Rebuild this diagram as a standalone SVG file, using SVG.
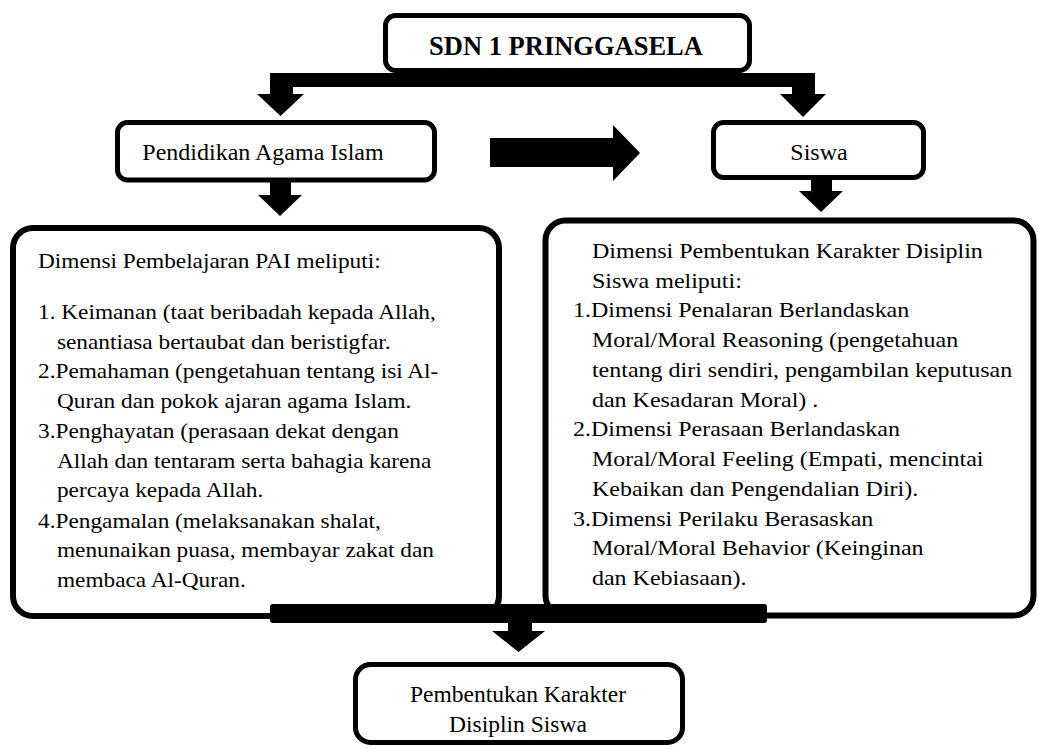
<svg xmlns="http://www.w3.org/2000/svg" width="1038" height="749" viewBox="0 0 1038 749">
<style>
.box{fill:#fff;stroke:#000;stroke-width:5}
.big{fill:#fff;stroke:#000;stroke-width:6}
.t{font-family:'Liberation Serif','Times New Roman',Times,serif;fill:#000}
.s{font-size:24px}
.b{font-size:21.5px}
.title{font-size:26.5px;font-weight:bold}
.arr{fill:#000;stroke:none}
</style>
<rect width="1038" height="749" fill="#fff"/>
<g id="node-sdn">
<rect class="box" x="385.5" y="15.5" width="364" height="55" rx="10"/>
<text class="t title" font-family="Liberation Serif, serif" x="566" y="55" text-anchor="middle">SDN 1 PRINGGASELA</text>
</g>
<g id="node-pai">
<rect class="box" x="117.5" y="122.5" width="317" height="57.5" rx="10"/>
<text class="t s" font-family="Liberation Serif, serif" x="263" y="160" text-anchor="middle">Pendidikan Agama Islam</text>
</g>
<g id="node-siswa">
<rect class="box" x="713.5" y="122.5" width="210" height="55" rx="10"/>
<text class="t s" font-family="Liberation Serif, serif" x="819" y="160" text-anchor="middle">Siswa</text>
</g>
<g id="node-dimensi-pai">
<rect class="big" x="13" y="228" width="486" height="388" rx="20"/>
<g class="t b" font-family="Liberation Serif, serif" transform="translate(38 0) scale(1.084 1)">
<text x="0" y="268">Dimensi Pembelajaran PAI meliputi:</text>
<text x="0" y="319">1. Keimanan (taat beribadah kepada Allah,</text>
<text x="17.5" y="349">senantiasa bertaubat dan beristigfar.</text>
<text x="0" y="378">2.Pemahaman (pengetahuan tentang isi Al-</text>
<text x="17.5" y="408">Quran dan pokok ajaran agama Islam.</text>
<text x="0" y="438">3.Penghayatan (perasaan dekat dengan</text>
<text x="17.5" y="468">Allah dan tentaram serta bahagia karena</text>
<text x="17.5" y="497">percaya kepada Allah.</text>
<text x="0" y="528">4.Pengamalan (melaksanakan shalat,</text>
<text x="17.5" y="557">menunaikan puasa, membayar zakat dan</text>
<text x="17.5" y="587">membaca Al-Quran.</text>
</g>
</g>
<g id="node-dimensi-karakter">
<rect class="big" x="545.5" y="220.5" width="488" height="395" rx="20"/>
<g class="t b" font-family="Liberation Serif, serif" transform="translate(573 0) scale(1.116 1)">
<text x="17" y="258">Dimensi Pembentukan Karakter Disiplin</text>
<text x="17" y="288">Siswa meliputi:</text>
<text x="0" y="317.5">1.Dimensi Penalaran Berlandaskan</text>
<text x="17" y="347">Moral/Moral Reasoning (pengetahuan</text>
<text x="17" y="377">tentang diri sendiri, pengambilan keputusan</text>
<text x="17" y="407">dan Kesadaran Moral) .</text>
<text x="0" y="436.5">2.Dimensi Perasaan Berlandaskan</text>
<text x="17" y="466">Moral/Moral Feeling (Empati, mencintai</text>
<text x="17" y="496">Kebaikan dan Pengendalian Diri).</text>
<text x="0" y="526">3.Dimensi Perilaku Berasaskan</text>
<text x="17" y="555.5">Moral/Moral Behavior (Keinginan</text>
<text x="17" y="585">dan Kebiasaan).</text>
</g>
</g>
<g id="node-hasil">
<rect class="box" x="355.5" y="664.5" width="327" height="78" rx="15"/>
<text class="t s" font-family="Liberation Serif, serif" x="518" y="702" text-anchor="middle" style="font-size:23.5px">Pembentukan Karakter</text>
<text class="t s" font-family="Liberation Serif, serif" x="518" y="732" text-anchor="middle" style="font-size:23.5px">Disiplin Siswa</text>
</g>
<g id="connectors">
<path class="arr" d="M270 73 H815 V94 H826 L803 117 L780 94 H792 V87 H293 V94 H304 L280.5 116 L257 94 H270 Z"/>
<path class="arr" d="M490 138 H613 V125 L640 153 L613 181 V167 H490 Z"/>
<path class="arr" d="M270 180 H291 V195 H302 L280 216 L258 195 H270 Z"/>
<path class="arr" d="M811 177 H832 V191 H843 L821 212 L799 191 H811 Z"/>
<rect class="arr" x="270" y="604" width="497" height="19" rx="3"/>
<path class="arr" d="M508 622 H532 V631 H545 L518.5 652 L492 631 H508 Z"/>
</g>
</svg>
